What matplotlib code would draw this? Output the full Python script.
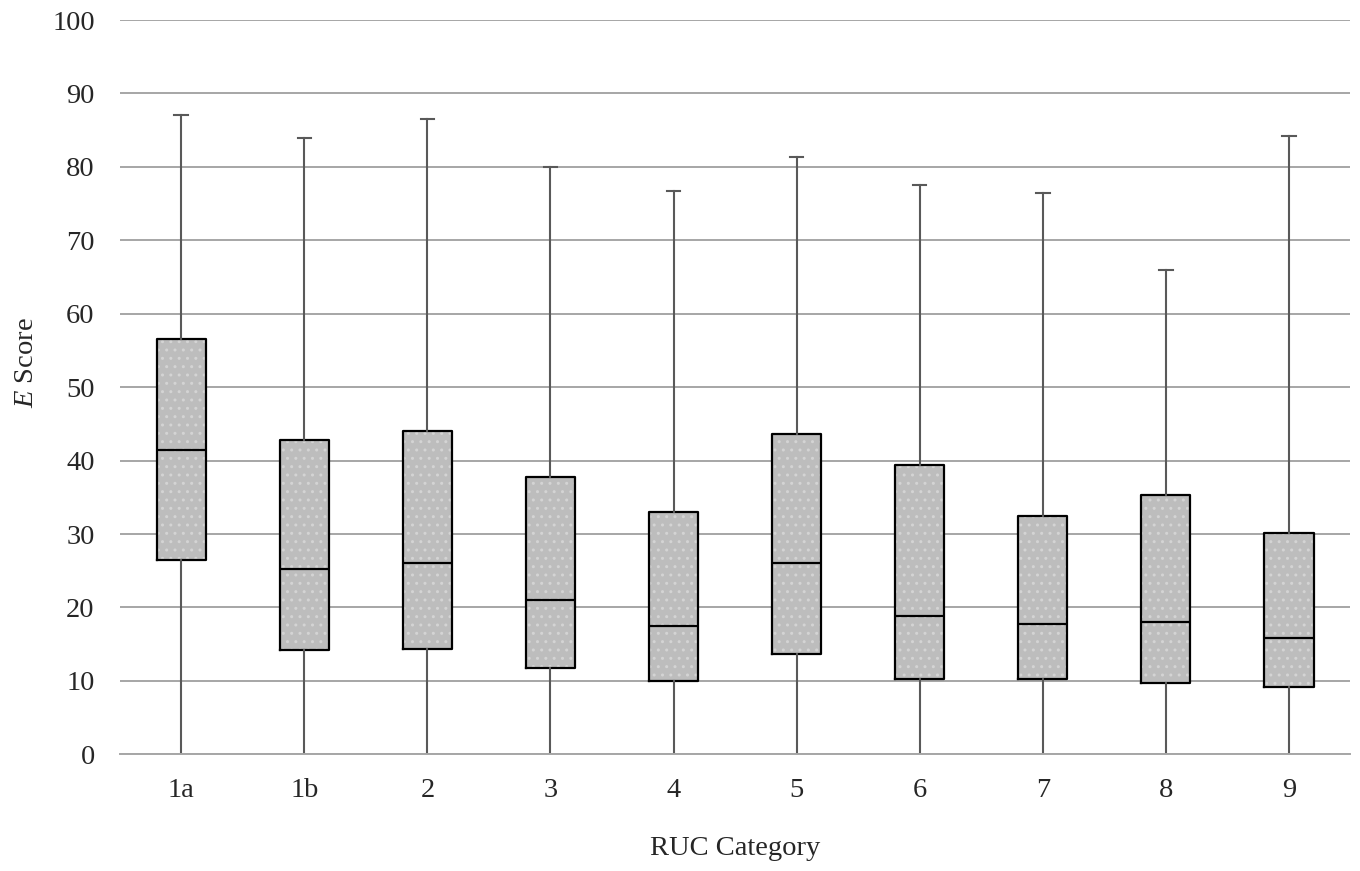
import matplotlib
matplotlib.use('Agg')
from matplotlib import pyplot as plt

categories = ['1a', '1b', '2', '3', '4', '5', '6', '7', '8', '9']
mins = [0, 0, 0, 0, 0, 0, 0, 0, 0, 0]
q1 = [26.4, 14.2, 14.4, 11.7, 10.0, 13.6, 10.2, 10.2, 9.7, 9.2]
medians = [41.4, 25.3, 26.0, 21.0, 17.5, 26.0, 18.9, 17.7, 18.0, 15.8]
q3 = [56.6, 42.8, 44.0, 37.8, 33.0, 43.6, 39.4, 32.5, 35.3, 30.2]
maxs = [87.0, 84.0, 86.5, 80.0, 76.7, 81.4, 77.5, 76.4, 65.9, 84.2]

plt.rcParams['font.family'] = 'Liberation Serif'
plt.rcParams['mathtext.fontset'] = 'custom'
plt.rcParams['mathtext.it'] = 'Liberation Serif:italic'
plt.rcParams['mathtext.rm'] = 'Liberation Serif'
plt.rcParams['hatch.linewidth'] = 1.0

FS = 20.5


def main():
	stats = []
	for i in range(len(categories)):
		stats.append({'label': categories[i], 'whislo': mins[i], 'q1': q1[i],
			'med': medians[i], 'q3': q3[i], 'whishi': maxs[i]})

	fig = plt.figure(figsize=(13.6, 8.71), dpi=100)
	ax = fig.add_axes([0.088, 0.134, 0.905, 0.843])

	pos = list(range(len(categories)))
	# filled boxes with light dotted texture
	ax.bxp(stats, positions=pos, widths=0.4, patch_artist=True,
		showcaps=False, showfliers=False,
		boxprops=dict(facecolor='#bdbdbd', edgecolor='#d4d4d4', hatch='..', linewidth=0),
		whiskerprops=dict(linewidth=0), medianprops=dict(linewidth=0))
	# outlines, whiskers, medians
	bp = ax.bxp(stats, positions=pos, widths=0.4, showfliers=False, capwidths=0.11,
		boxprops=dict(color='black', linewidth=1.6),
		whiskerprops=dict(color='#595959', linewidth=1.5),
		capprops=dict(color='#595959', linewidth=1.5),
		medianprops=dict(color='black', linewidth=1.6))
	for k, cap in enumerate(bp['caps']):
		if k % 2 == 0:
			cap.set_visible(False)

	ax.set_xlim(-0.5, len(categories) - 0.5)
	ax.set_ylim(0, 100)
	ax.set_yticks(range(0, 101, 10))
	ax.set_xticks(pos)
	ax.set_xticklabels(categories)
	ax.yaxis.grid(True, color='#a6a6a6', linewidth=1.4)
	ax.set_axisbelow(True)
	for s in ['top', 'right', 'left']:
		ax.spines[s].set_visible(False)
	ax.spines['bottom'].set_color('#a6a6a6')
	ax.spines['bottom'].set_linewidth(1.4)
	ax.tick_params(length=0, labelsize=FS, colors='#262626')
	ax.tick_params(axis='x', pad=17)
	ax.tick_params(axis='y', pad=18)
	ax.set_xlabel('RUC Category', fontsize=FS, color='#262626')
	ax.set_ylabel('$E$ Score', fontsize=FS, color='#262626')
	ax.xaxis.set_label_coords(0.5, -0.111)
	ax.yaxis.set_label_coords(-0.0656, 0.534)

	fig.savefig('out.png', dpi=100)


if __name__ == "__main__":
	main()
